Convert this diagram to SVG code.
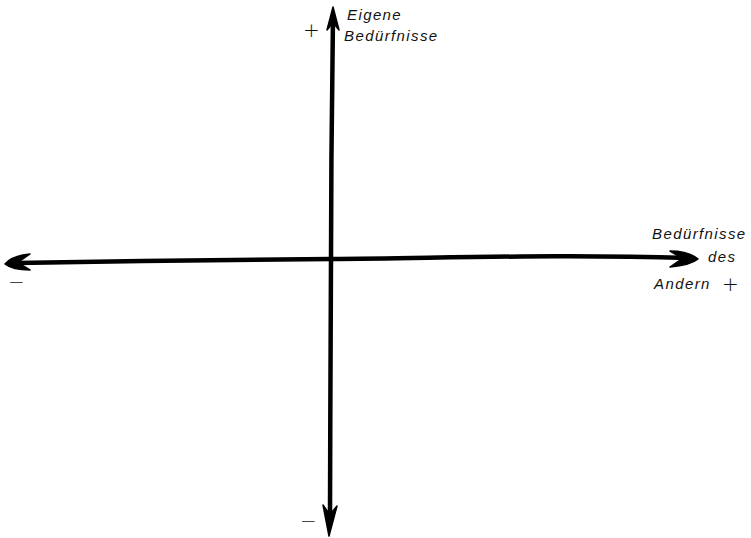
<svg xmlns="http://www.w3.org/2000/svg" width="751" height="538" viewBox="0 0 751 538">
<style>
.ax{fill:none;stroke:#000;stroke-width:4.5;stroke-linecap:round;stroke-linejoin:round}
.hd{fill:#000;stroke:#000;stroke-width:1.5;stroke-linejoin:round}
.t{font-family:"Liberation Sans",Arial,sans-serif;font-style:italic;font-size:15px;letter-spacing:1.4px;fill:#111}
.s{font-family:"DejaVu Sans",sans-serif;font-weight:300;font-size:20px;fill:#111}
</style>
<rect width="751" height="538" fill="#fff"/>
<g id="connectors">
<path class="ax" d="M333,16 C332,90 331,180 331,259 C331,340 330,430 330,515"/>
<path class="ax" d="M16,263 C120,261 230,260 331,259 C450,258 560,254 688,258"/>
</g>
<g id="arrow-top"><path class="hd" d="M333,7 L339,30 L334,24 L332,24 L327,30 Z"/></g>
<g id="arrow-bottom"><path class="hd" d="M329,536 L323,505 L328,512 L332,512 L337,506 Z"/></g>
<g id="arrow-left"><path class="hd" d="M5,264 C10,258 20,255 30,254 L20,261 L20,264 L30,270 C20,270 10,268 5,264 Z"/></g>
<g id="arrow-right"><path class="hd" d="M698,259 C692,254 682,251 670,251 L680,257 L680,260 L670,267 C682,266 692,264 698,259 Z"/></g>
<g id="label-eigene">
<text class="s" x="303" y="37">+</text>
<text class="t" x="347" y="20">Eigene</text>
<text class="t" x="344" y="41">Bedürfnisse</text>
</g>
<g id="label-andern">
<text class="t" x="652" y="239">Bedürfnisse</text>
<text class="t" x="708" y="262">des</text>
<text class="t" x="654" y="289">Andern</text>
<text class="s" x="722" y="291">+</text>
</g>
<g id="minus-left"><text class="s" x="8" y="289">−</text></g>
<g id="minus-bottom"><text class="s" x="300" y="528">−</text></g>
</svg>
